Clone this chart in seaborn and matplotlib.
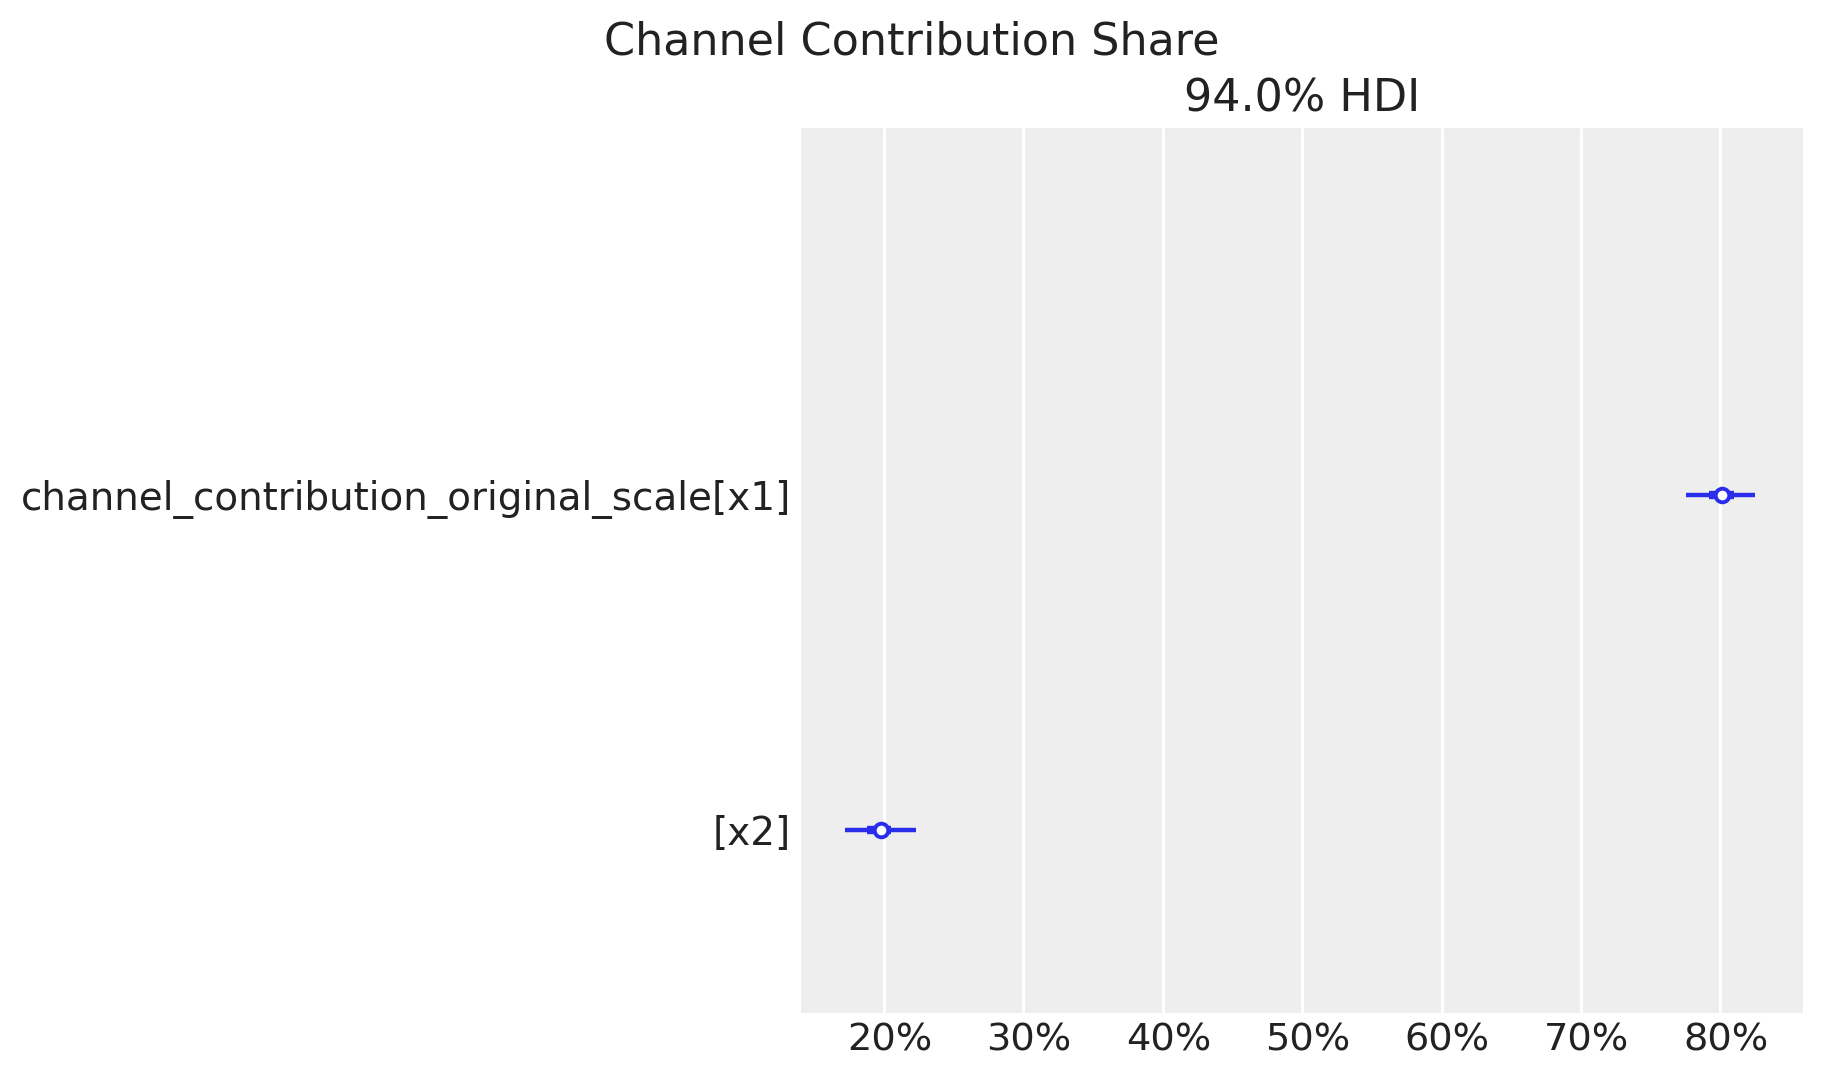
import matplotlib
matplotlib.use("Agg")
import matplotlib.pyplot as plt
import matplotlib.ticker as mticker
import matplotlib.transforms as mtransforms
import pandas as pd
import seaborn as sns

# valores (fração da contribuição)
canais = ["channel_contribution_original_scale[x1]", "[x2]"]
posicao_y = [1, 0]
mediana = [0.801, 0.198]
hdi_94_inf = [0.775, 0.172]
hdi_94_sup = [0.825, 0.223]
hdi_50_inf = [0.792, 0.188]
hdi_50_sup = [0.810, 0.205]

df = pd.DataFrame({
    "canal": canais,
    "y": posicao_y,
    "mediana": mediana,
    "hdi_94_inf": hdi_94_inf,
    "hdi_94_sup": hdi_94_sup,
    "hdi_50_inf": hdi_50_inf,
    "hdi_50_sup": hdi_50_sup,
})

azul = "#2a2eec"

sns.set_theme(style="darkgrid", rc={
    "axes.facecolor": "#eeeeee",
    "grid.color": "white",
    "grid.linewidth": 1.1,
    "text.color": "#222222",
    "xtick.color": "#222222",
    "ytick.color": "#222222",
    "xtick.major.size": 0,
    "ytick.major.size": 0,
    "xtick.major.pad": 3.5,
    "ytick.major.pad": 3.5,
})
plt.rcParams["font.family"] = ["DejaVu Sans"]

fig = plt.figure(figsize=(9.115, 5.405), dpi=200)
ax = fig.add_axes([0.4394, 0.0632, 0.5498, 0.8184])

# intervalos HDI 94% (fino) e 50% (grosso)
ax.hlines(df["y"], df["hdi_94_inf"], df["hdi_94_sup"], color=azul, lw=1.6, zorder=3)
ax.hlines(df["y"], df["hdi_50_inf"], df["hdi_50_sup"], color=azul, lw=3.0, zorder=3)
sns.scatterplot(data=df, x="mediana", y="y", ax=ax, s=24, color="white",
                edgecolor=azul, linewidth=1.4, zorder=4, legend=False)

ax.set_xlim(0.1405, 0.8595)
ax.set_ylim(-0.546, 2.096)
ax.set_yticks(df["y"])
ax.set_yticklabels(df["canal"], fontsize=14)
ax.xaxis.set_major_locator(mticker.MultipleLocator(0.1))
ax.xaxis.set_major_formatter(mticker.PercentFormatter(xmax=1, decimals=0))
ax.tick_params(axis="x", labelsize=13.8)
ax.grid(axis="y", visible=False)
ax.grid(axis="x", visible=True)
ax.set_xlabel("")
ax.set_ylabel("")
for s in ax.spines.values():
    s.set_visible(False)

# os rótulos do eixo x ficam um pouco à direita no original
desloc = mtransforms.ScaledTranslation(2 / 72, 0, fig.dpi_scale_trans)
for lbl in ax.get_xticklabels():
    lbl.set_transform(lbl.get_transform() + desloc)

ax.set_title("94.0% HDI", fontsize=16)
fig.suptitle("Channel Contribution Share", fontsize=16, y=0.950, va="baseline")

fig.savefig("out.png", dpi=200)
